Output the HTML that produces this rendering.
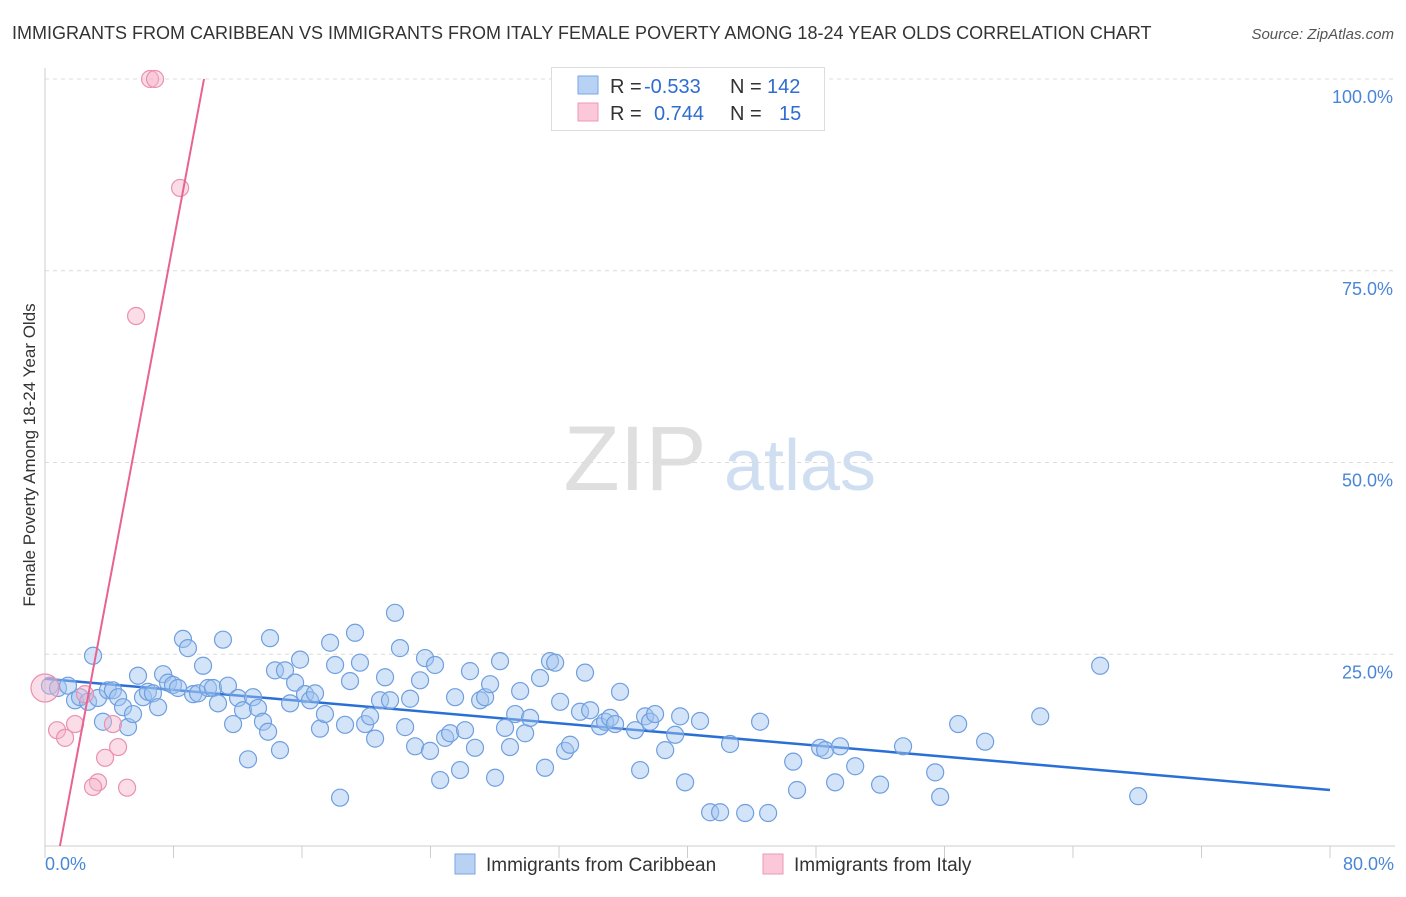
<!DOCTYPE html>
<html><head><meta charset="utf-8"><style>
body{margin:0;background:#fff;font-family:"Liberation Sans",sans-serif;}
svg text{font-family:"Liberation Sans",sans-serif;}
</style></head><body>
<svg id="chart" width="1406" height="892" xmlns="http://www.w3.org/2000/svg">
<text x="12" y="39" font-size="18" fill="#333">IMMIGRANTS FROM CARIBBEAN VS IMMIGRANTS FROM ITALY FEMALE POVERTY AMONG 18-24 YEAR OLDS CORRELATION CHART</text>
<text x="1394" y="39" font-size="15" fill="#555" font-style="italic" text-anchor="end">Source: ZipAtlas.com</text>
<g>
<text x="635" y="490" font-size="92" fill="#d8d8d8" font-family="Liberation Serif" text-anchor="middle" opacity="0.8">ZIP</text>
<text x="800" y="490" font-size="72" fill="#c5d6ee" text-anchor="middle" opacity="0.8">atlas</text>
</g>
<g id="grid"></g>
<g id="axes"></g>
<line id="blueLine" stroke="#2a6fd6" stroke-width="2.5"/>
<g id="pts"></g>
<line id="pinkLine" stroke="#e8638f" stroke-width="2"/>
<text x="35" y="455" font-size="17" fill="#333" text-anchor="middle" transform="rotate(-90 35 455)">Female Poverty Among 18-24 Year Olds</text>
<text x="45" y="870" font-size="18" fill="#4a86d8">0.0%</text>
<text x="1394" y="870" font-size="18" fill="#4a86d8" text-anchor="end">80.0%</text>
<g>
<rect x="551.5" y="67.5" width="273" height="63" fill="#fff" stroke="#ddd"/>
<rect x="578" y="76" width="20" height="18" fill="#b8d2f4" stroke="#7aa6e3"/>
<rect x="578" y="103" width="20" height="18" fill="#fac8d8" stroke="#ec9ab6"/>
<text x="610" y="93" font-size="20" fill="#333">R = </text><text x="644" y="93" font-size="20" fill="#2e6dd0">-0.533</text>
<text x="730" y="93" font-size="20" fill="#333">N = </text><text x="767" y="93" font-size="20" fill="#2e6dd0">142</text>
<text x="610" y="120" font-size="20" fill="#333">R = </text><text x="654" y="120" font-size="20" fill="#2e6dd0">0.744</text>
<text x="730" y="120" font-size="20" fill="#333">N = </text><text x="779" y="120" font-size="20" fill="#2e6dd0">15</text>
</g>
<g>
<rect x="455" y="854" width="20" height="20" fill="#b8d2f4" stroke="#7aa6e3"/>
<text x="486" y="871" font-size="19" fill="#333">Immigrants from Caribbean</text>
<rect x="763" y="854" width="20" height="20" fill="#fac8d8" stroke="#ec9ab6"/>
<text x="794" y="871" font-size="19" fill="#333">Immigrants from Italy</text>
</g>
</svg>
<script>
const xTicks=[0,8,16,24,32,40,48,56,64,72,80];
const yTicks=[25,50,75,100];
const yTickLabels=["25.0%","50.0%","75.0%","100.0%"];
const blueX=[0.31,0.81,1.43,1.87,2.18,2.68,2.99,3.30,3.61,3.92,4.23,4.55,4.86,5.17,5.48,5.79,6.10,6.41,6.72,7.04,7.35,7.66,7.97,8.28,8.59,8.90,9.22,9.53,9.84,10.15,10.46,10.77,11.08,11.39,11.71,12.02,12.33,12.64,12.95,13.26,13.57,13.89,14.01,14.32,14.63,14.94,15.26,15.57,15.88,16.19,16.50,16.81,17.12,17.43,17.75,18.06,18.37,18.68,18.99,19.30,19.61,19.93,20.24,20.55,20.86,21.17,21.48,21.79,22.10,22.42,22.73,23.04,23.35,23.66,23.97,24.28,24.60,24.91,25.22,25.53,25.84,26.15,26.46,26.77,27.09,27.40,27.71,28.02,28.33,28.64,28.95,29.27,29.58,29.89,30.20,30.82,31.13,31.44,31.76,32.07,32.38,32.69,33.31,33.62,33.94,34.56,34.87,35.18,35.49,35.80,36.74,37.05,37.36,37.67,37.98,38.61,39.23,39.54,39.85,40.78,41.41,42.03,42.65,43.59,44.52,45.02,46.58,46.82,48.26,48.57,49.19,49.50,50.44,51.99,53.42,55.42,55.73,56.85,58.53,61.96,65.69,68.06];
const blueY=[20.9,20.6,20.9,19.0,19.4,18.8,24.8,19.3,16.2,20.3,20.3,19.4,18.1,15.5,17.2,22.2,19.4,20.1,19.9,18.1,22.4,21.3,21.0,20.6,27.0,25.8,19.8,19.9,23.5,20.6,20.6,18.6,26.9,20.9,15.9,19.3,17.7,11.3,19.4,18.0,16.2,14.9,27.1,22.9,12.5,22.9,18.6,21.3,24.3,19.8,19.0,19.9,15.3,17.2,26.5,23.6,6.3,15.8,21.5,27.8,23.9,15.9,16.9,14.0,19.0,22.0,19.0,30.4,25.8,15.5,19.2,13.0,21.6,24.5,12.4,23.6,8.6,14.1,14.7,19.4,9.9,15.1,22.8,12.8,19.0,19.4,21.1,8.9,24.1,15.4,12.9,17.2,20.2,14.7,16.7,21.9,10.2,24.1,23.9,18.8,12.4,13.2,17.5,22.6,17.7,15.6,16.2,16.7,15.9,20.1,15.1,9.9,16.9,16.2,17.2,12.5,14.5,16.9,8.3,16.3,4.4,4.4,13.3,4.3,16.2,4.3,11.0,7.3,12.8,12.5,8.3,13.0,10.4,8.0,13.0,9.6,6.4,15.9,13.6,16.9,23.5,6.5];
const pinkX=[6.54,6.85,8.41,5.67,0.75,1.25,1.87,2.49,4.23,4.55,3.74,3.30,2.99,5.11,0];
const pinkY=[100,100,85.8,69.1,15.1,14.1,15.9,19.8,15.9,12.9,11.5,8.3,7.7,7.6,20.6];
const blueTrendX=[0,80];
const blueTrendY=[21.8,7.3];
const pinkTrendX=[0.93,9.9];
const pinkTrendY=[0,100];

const X0=45,X1=1330,Y0=846,Y100=79;
const sx=v=>X0+(X1-X0)*v/80;
const sy=v=>Y0-(Y0-Y100)*v/100;
const NS="http://www.w3.org/2000/svg";
function mk(tag,attrs,parent){const e=document.createElementNS(NS,tag);for(const k in attrs)e.setAttribute(k,attrs[k]);parent.appendChild(e);return e;}
const grid=document.getElementById('grid'),axes=document.getElementById('axes'),pts=document.getElementById('pts');
yTicks.forEach((t,i)=>{
  const l=mk('line',{x1:X0,x2:1395,y1:sy(t),y2:sy(t),stroke:'#dcdcdc','stroke-dasharray':'4 4'},grid);
  
  
  const tx=mk('text',{x:1393,y:sy(t)+24,'font-size':18,fill:'#4a86d8','text-anchor':'end'},grid);
  tx.textContent=yTickLabels[i];
  
  
});
const ya=mk('line',{x1:X0,x2:X0,y1:68,y2:Y0,stroke:'#ccc'},axes);


const xa=mk('line',{x1:X0,x2:1395,y1:Y0,y2:Y0,stroke:'#ccc'},axes);


xTicks.forEach(t=>{
  const l=mk('line',{x1:sx(t),x2:sx(t),y1:Y0,y2:Y0+12,stroke:'#ccc'},axes);
  
  
});
blueX.forEach((v,i)=>{
  const c=mk('circle',{cx:sx(v),cy:sy(blueY[i]),r:8.5,fill:'rgba(160,196,240,0.45)',stroke:'#6f9fe0','stroke-width':1.2},pts);
  
  
});
pinkX.forEach((v,i)=>{
  const c=mk('circle',{cx:sx(v),cy:sy(pinkY[i]),r:i===pinkX.length-1?14:8.5,fill:'rgba(247,180,202,0.45)',stroke:'#ea90b0','stroke-width':1.2},pts);
  
  
});
const bl=document.getElementById('blueLine');
bl.setAttribute('x1',sx(blueTrendX[0]));bl.setAttribute('y1',sy(blueTrendY[0]));
bl.setAttribute('x2',sx(blueTrendX[1]));bl.setAttribute('y2',sy(blueTrendY[1]));
const pl=document.getElementById('pinkLine');
pl.setAttribute('x1',sx(pinkTrendX[0]));pl.setAttribute('y1',sy(pinkTrendY[0]));
pl.setAttribute('x2',sx(pinkTrendX[1]));pl.setAttribute('y2',sy(pinkTrendY[1]));
</script>
</body></html>
